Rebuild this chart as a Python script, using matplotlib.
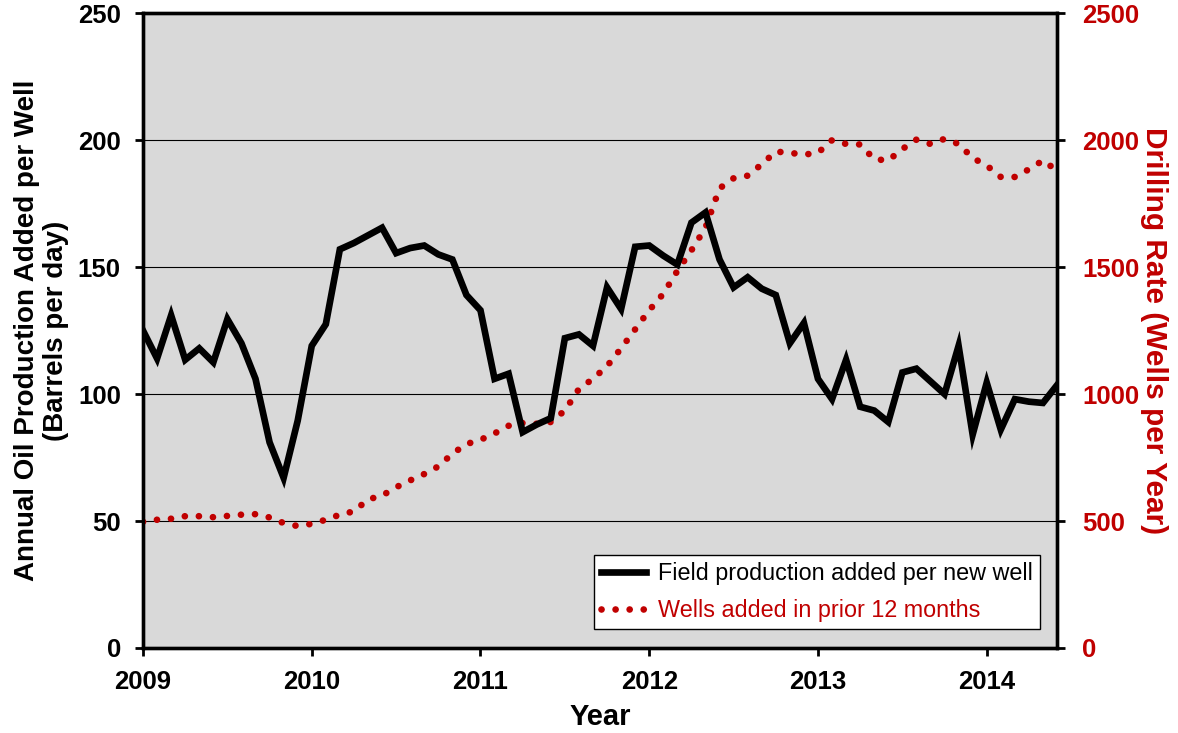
import matplotlib
matplotlib.use("Agg")
import matplotlib.pyplot as plt
import numpy as np

# 月度資料: 2009年1月 ~ 2014年6月
start_year = 2009
n_months = 66

# 每口新井增加的產量 (barrels per day)
production_per_well = [
    125, 114, 131, 113.5, 118, 112.5, 129.5, 120, 106, 81, 67, 89.5,
    119, 127.5, 157, 159.5, 162.5, 165.5, 155.5, 157.5, 158.5, 155, 153, 139,
    133, 106, 108, 85, 88, 90.5, 122, 123.5, 119, 142, 133.5, 158,
    158.5, 154.5, 151, 167.5, 171.5, 153, 142, 146, 141.5, 139,
    120, 128, 106, 98, 113.5, 95, 93.5, 89, 108.5, 110, 105, 100,
    119, 84, 104.5, 86, 98, 97, 96.5, 103.5,
]

# 過去12個月新增井數 (wells per year)
wells_per_year = [
    497, 505, 509, 519, 519, 515, 520, 525, 527, 514, 492, 480,
    489, 505, 525, 538, 585, 600, 633, 660, 685, 715, 765, 803,
    820, 845, 875, 886, 883, 890, 935, 1020, 1060, 1110, 1180, 1255,
    1330, 1395, 1485, 1566, 1655, 1810, 1850, 1860, 1905, 1955,
    1950, 1943, 1950, 2000, 1985, 1983, 1925, 1920, 1965, 2002, 1985, 2005,
    1985, 1930, 1900, 1855, 1855, 1885, 1920, 1880,
]

year_ticks = [2009, 2010, 2011, 2012, 2013, 2014]
x = start_year + np.arange(n_months) / 12.0

red = "#C00000"
font = ["Liberation Sans", "DejaVu Sans"]

fig = plt.figure(figsize=(11.78, 7.33), dpi=100)
ax = fig.add_axes([0.1214, 0.116, 0.7759, 0.866])
ax2 = ax.twinx()

ax.set_facecolor("#D9D9D9")
ax.set_zorder(1)
ax2.set_zorder(2)
ax2.patch.set_visible(False)

for v in [50, 100, 150, 200]:
    ax.axhline(v, color="black", linewidth=0.8, zorder=1)

l1, = ax2.plot(x, np.array(production_per_well) * 10, color="black",
               linewidth=4.8, solid_joinstyle="miter", zorder=3,
               label="Field production added per new well")
l2, = ax2.plot(x, wells_per_year, color=red, linewidth=4.8,
               linestyle=(0, (0.01, 2.1)), dash_capstyle="round", zorder=2,
               label="Wells added in prior 12 months")

ax.set_xlim(start_year, start_year + (n_months - 1) / 12.0)
ax.set_ylim(0, 250)
ax2.set_ylim(0, 2500)
ax.set_yticks(np.arange(0, 251, 50))
ax2.set_yticks(np.arange(0, 2501, 500))
ax.set_xticks(year_ticks)
ax.set_xticklabels([str(y) for y in year_ticks])

for a in (ax, ax2):
    for s in a.spines.values():
        s.set_linewidth(2.4)
        s.set_color("black")

ax.tick_params(axis="both", direction="out", length=6, width=2, pad=10)
ax2.tick_params(axis="y", direction="out", length=6, width=2, pad=12,
                color="black", labelcolor=red)

for lab in ax.get_xticklabels() + ax.get_yticklabels() + ax2.get_yticklabels():
    lab.set_fontfamily(font)
    lab.set_fontweight("bold")
    lab.set_fontsize(18.5)

ax.set_xlabel("Year", fontsize=21, fontweight="bold", family=font,
              labelpad=6)
ax.set_ylabel("Annual Oil Production Added per Well\n(Barrels per day)",
              fontsize=20, fontweight="bold", family=font, labelpad=6,
              linespacing=1.15)
ax2.set_ylabel("Drilling Rate (Wells per Year)", fontsize=21.5,
               fontweight="bold", family=font, color=red,
               rotation=270, labelpad=21)

leg = ax2.legend(handles=[l1, l2], loc="lower right",
                 bbox_to_anchor=(0.9814, 0.03), borderaxespad=0,
                 frameon=True, fancybox=False,
                 edgecolor="black", framealpha=1, handlelength=1.95,
                 handletextpad=0.5,
                 prop={"family": font, "size": 16.8},
                 borderpad=0.3, labelspacing=0.6)
leg.get_frame().set_linewidth(1.0)
leg.get_texts()[1].set_color(red)

fig.savefig("out.png", dpi=100)
